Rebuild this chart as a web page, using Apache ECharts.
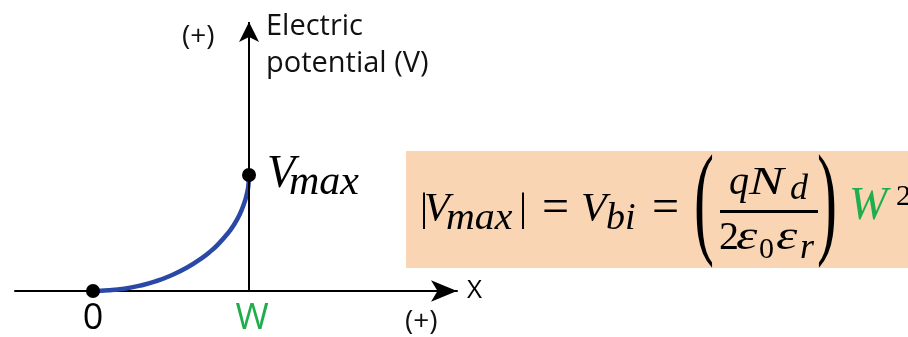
<!DOCTYPE html>
<html>
<head>
<meta charset="utf-8">
<script src="https://cdn.jsdelivr.net/npm/echarts@6/dist/echarts.min.js"></script>
<style>
  html, body { margin: 0; padding: 0; background: #fff; }
  #chart { width: 908px; height: 337px; }
</style>
</head>
<body>
<div id="chart"></div>
<script>
// Depletion-region potential profile: x in units of W, potential in units of Vmax
const positionX = [0, 0.1, 0.2, 0.3, 0.4, 0.5, 0.6, 0.7, 0.76, 0.8, 0.866, 0.9, 0.94, 0.97, 0.983, 0.995, 1];
const potentialV = [0, 0.006, 0.02, 0.046, 0.083, 0.134, 0.2, 0.286, 0.35, 0.4, 0.5, 0.564, 0.66, 0.76, 0.82, 0.9, 1];
const endpointX = [0, 1];
const endpointV = [0, 1];
const tickValues = [0, 1];
const tickLabels = ['0', 'W'];

const SANS = '"Open Sans", "Noto Sans", sans-serif';
const SERIF = '"Liberation Serif", "DejaVu Serif", serif';
const GREEN = '#1fae4b';

const chart = echarts.init(document.getElementById('chart'), null, { renderer: 'canvas' });

const curveData = positionX.map((x, i) => [x, potentialV[i]]);
const dotData = endpointX.map((x, i) => [x, endpointV[i]]);

// Helper for formula pieces
function mathText(text, x, y, size, opts) {
  opts = opts || {};
  return {
    type: 'text',
    x: x, y: y,
    scaleX: opts.scaleX || 1,
    scaleY: opts.scaleY || 1,
    z: 100,
    style: {
      text: text,
      fontFamily: SERIF,
      fontSize: size,
      fontStyle: opts.upright ? 'normal' : 'italic',
      fill: opts.color || '#000',
      align: 'left',
      verticalAlign: 'middle'
    }
  };
}

const formula = [
  { type: 'rect', z: 99, shape: { x: 406, y: 151, width: 520, height: 117 }, style: { fill: '#fad5b4' } },
  mathText('|', 420, 209, 40, { upright: true }),
  mathText('V', 424, 209, 40, { scaleX: 1.05 }),
  mathText('max', 446, 219, 38, { scaleX: 1.05 }),
  mathText('|', 519, 209, 40, { upright: true }),
  mathText('=', 542, 209.5, 48, { upright: true }),
  mathText('V', 581, 209, 40, { scaleX: 1.05 }),
  mathText('bi', 606, 219, 38),
  mathText('=', 652, 209.5, 48, { upright: true }),
  mathText('(', 694, 208.5, 40, { upright: true, scaleX: 1.5, scaleY: 3.1 }),
  mathText('q', 729, 183.5, 40),
  mathText('N', 749, 183.5, 40, { scaleX: 1.3 }),
  mathText('d', 790, 190, 36),
  { type: 'rect', z: 100, shape: { x: 720, y: 210, width: 98, height: 3 }, style: { fill: '#000' } },
  mathText('2', 719, 238.5, 40, { upright: true }),
  mathText('\u03b5', 736, 238.5, 40, { scaleX: 1.35 }),
  mathText('0', 759, 250, 30, { upright: true }),
  mathText('\u03b5', 776, 238.5, 40, { scaleX: 1.35 }),
  mathText('r', 800, 249, 36),
  mathText(')', 817, 208.5, 40, { upright: true, scaleX: 1.5, scaleY: 3.1 }),
  mathText('W', 849, 207, 46, { color: GREEN }),
  mathText('2', 896, 197.5, 30, { upright: true })
];

const annotations = [
  { type: 'text', x: 182, y: 37, z: 50, style: { text: '(+)', fontFamily: SANS, fontSize: 28, fill: '#111', align: 'left', verticalAlign: 'middle' } },
  { type: 'text', x: 405, y: 322, z: 50, style: { text: '(+)', fontFamily: SANS, fontSize: 28, fill: '#111', align: 'left', verticalAlign: 'middle' } },
  { type: 'text', x: 266, y: 8, z: 50, style: { text: 'Electric\npotential (V)', fontFamily: SANS, fontSize: 29, lineHeight: 37, fill: '#111', align: 'left', verticalAlign: 'top' } }
];

chart.setOption({
  animation: false,
  grid: { left: 15, right: 451, top: 1, bottom: 43 },
  xAxis: {
    type: 'value',
    min: -0.5,
    max: 2.333,
    splitLine: { show: false },
    axisTick: { show: false },
    axisLine: {
      show: true,
      onZero: true,
      symbol: ['none', 'arrow'],
      symbolSize: [16, 26],
      lineStyle: { color: '#000', width: 2 }
    },
    axisLabel: {
      customValues: tickValues,
      margin: 10,
      fontFamily: SANS,
      fontSize: 36,
      color: '#000',
      formatter: function (v) {
        const label = tickLabels[tickValues.indexOf(v)];
        return label === 'W' ? '{w|W}' : label;
      },
      rich: { w: { color: GREEN, fontFamily: SANS, fontSize: 36, padding: [0, 0, 0, 6] } }
    },
    name: 'X',
    nameLocation: 'end',
    nameGap: 10,
    nameTextStyle: { fontFamily: SANS, fontSize: 26, color: '#000' }
  },
  yAxis: {
    type: 'value',
    min: 0,
    max: 2.5,
    show: false
  },
  series: [
    {
      type: 'line',
      data: curveData,
      smooth: 0.5,
      showSymbol: false,
      lineStyle: { color: '#2a49a6', width: 4.5 },
      z: 3,
      markLine: {
        silent: true,
        animation: false,
        symbol: ['none', 'arrow'],
        symbolSize: [15, 20],
        label: { show: false },
        lineStyle: { color: '#000', width: 2, type: 'solid' },
        emphasis: { disabled: true },
        data: [[{ coord: [1, 0] }, { coord: [1, 2.32] }]]
      }
    },
    {
      type: 'scatter',
      data: dotData,
      symbolSize: 14,
      itemStyle: { color: '#000', opacity: 1 },
      z: 5,
      label: {
        show: true,
        position: 'right',
        distance: 11,
        color: '#000',
        opacity: 1,
        formatter: function (p) {
          return p.dataIndex === 1 ? '{v|V}{s|max}' : '';
        },
        rich: {
          v: { fontFamily: SERIF, fontStyle: 'italic', fontSize: 46, lineHeight: 46, width: 22, verticalAlign: 'top', color: '#000' },
          s: { fontFamily: SERIF, fontStyle: 'italic', fontSize: 42, lineHeight: 42, verticalAlign: 'top', padding: [10, 0, 14, 0], color: '#000' }
        }
      },
      emphasis: { disabled: true }
    }
  ],
  graphic: annotations.concat(formula)
});
</script>
</body>
</html>
